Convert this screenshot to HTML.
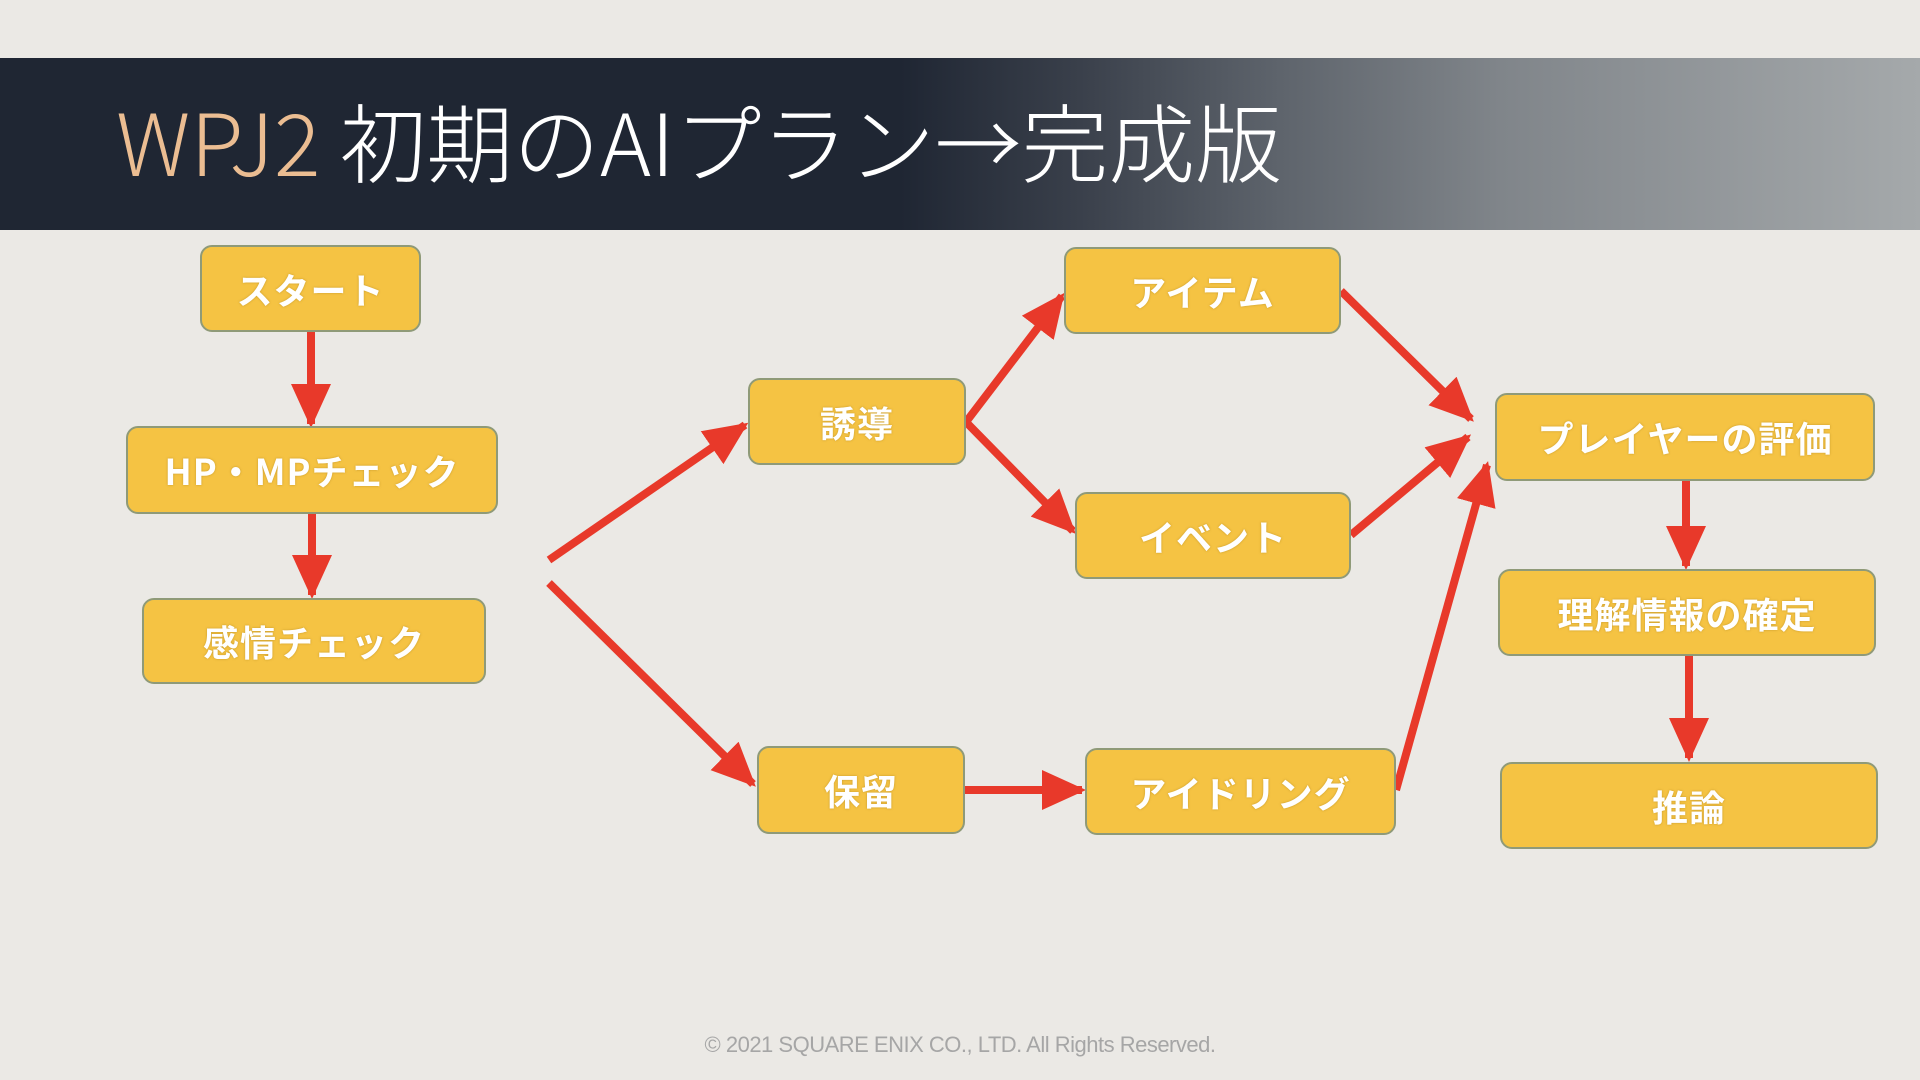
<!DOCTYPE html>
<html><head><meta charset="utf-8"><style>
html,body{margin:0;padding:0}
body{width:1920px;height:1080px;background:#ebe9e5;overflow:hidden;position:relative;font-family:"Liberation Sans","Noto Sans CJK JP",sans-serif}
.hdr{position:absolute;left:0;top:58px;width:1920px;height:172px;background:linear-gradient(90deg,#1f2633 0px,#1f2633 900px,#3a404b 1080px,#5e646c 1280px,#80858a 1500px,#a5a9ab 1920px)}
.box{position:absolute;box-sizing:border-box;background:#f5c343;border:2px solid #8f9a78;border-radius:12px;color:#fff;font-weight:bold;font-size:36px;display:flex;align-items:center;justify-content:center;text-shadow:0 0 2px rgba(150,110,20,.5);letter-spacing:1px;font-family:"Noto Sans CJK JP",sans-serif}
.copy{position:absolute;top:1032px;left:0;width:1920px;text-align:center;color:#a6a6a6;font-size:22px;letter-spacing:-0.5px}
</style></head><body>
<div class="hdr"></div>
<svg style="position:absolute;left:0;top:0" width="1920" height="1080">
<text x="116" y="176" font-size="86" font-family="Noto Sans CJK JP, sans-serif" font-weight="300" fill="#fff" textLength="1166" lengthAdjust="spacingAndGlyphs"><tspan fill="#ebbd92">WPJ2</tspan> 初期のAIプラン→完成版</text>
<defs><marker id="a" markerWidth="5.5" markerHeight="5" refX="5" refY="2.5" orient="auto" markerUnits="strokeWidth"><path d="M0,0 L5.5,2.5 L0,5 z" fill="#e8392a"/></marker></defs>
<g stroke="#e8392a" stroke-width="8" fill="none" marker-end="url(#a)">
<line x1="311" y1="332" x2="311" y2="424"/>
<line x1="312" y1="514" x2="312" y2="595"/>
<line x1="549" y1="560" x2="745" y2="425"/>
<line x1="549" y1="583" x2="753" y2="784"/>
<line x1="966" y1="422" x2="1062" y2="296"/>
<line x1="966" y1="422" x2="1073" y2="531"/>
<line x1="965" y1="790" x2="1082" y2="790"/>
<line x1="1341" y1="291" x2="1471" y2="419"/>
<line x1="1351" y1="535" x2="1468" y2="437"/>
<line x1="1396" y1="790" x2="1487" y2="465"/>
<line x1="1686" y1="481" x2="1686" y2="566"/>
<line x1="1689" y1="656" x2="1689" y2="758"/>
</g></svg>
<div class="box" style="left:200px;top:245px;width:221px;height:87px">スタート</div>
<div class="box" style="left:126px;top:426px;width:372px;height:88px">HP・MPチェック</div>
<div class="box" style="left:142px;top:598px;width:344px;height:86px">感情チェック</div>
<div class="box" style="left:748px;top:378px;width:218px;height:87px">誘導</div>
<div class="box" style="left:757px;top:746px;width:208px;height:88px">保留</div>
<div class="box" style="left:1064px;top:247px;width:277px;height:87px">アイテム</div>
<div class="box" style="left:1075px;top:492px;width:276px;height:87px">イベント</div>
<div class="box" style="left:1085px;top:748px;width:311px;height:87px">アイドリング</div>
<div class="box" style="left:1495px;top:393px;width:380px;height:88px">プレイヤーの評価</div>
<div class="box" style="left:1498px;top:569px;width:378px;height:87px">理解情報の確定</div>
<div class="box" style="left:1500px;top:762px;width:378px;height:87px">推論</div>
<div class="copy">© 2021 SQUARE ENIX CO., LTD. All Rights Reserved.</div>
</body></html>
